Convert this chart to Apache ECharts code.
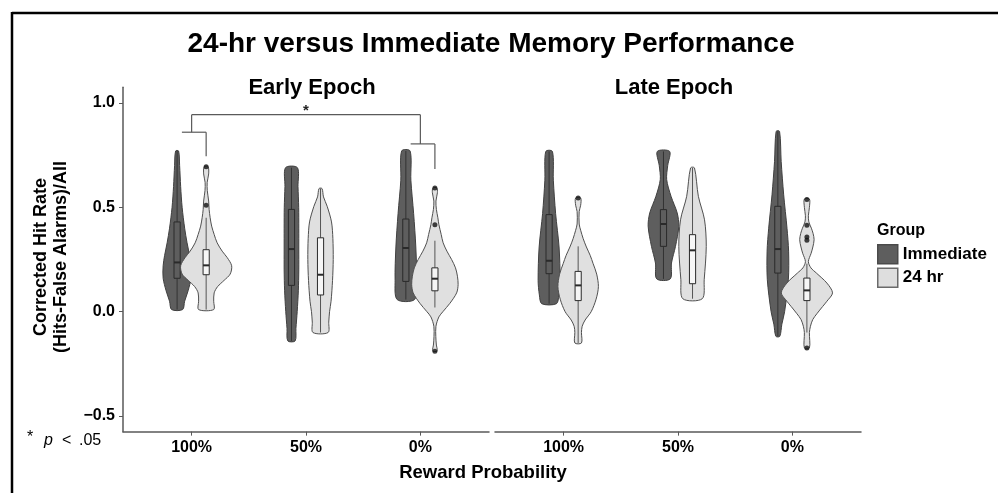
<!DOCTYPE html>
<html>
<head>
<meta charset="utf-8">
<script src="https://cdn.jsdelivr.net/npm/echarts@6/dist/echarts.min.js"></script>
<style>
  html, body { margin: 0; padding: 0; background: #fff; }
  #chart { width: 998px; height: 493px; }
</style>
</head>
<body>
<div id="chart"></div>
<script>
// ---- data -------------------------------------------------------------
const categories = ['100%', '50%', '0%'];
const groups = ['Immediate', '24 hr'];
const epochs = ['Early Epoch', 'Late Epoch'];
const yTicks = [-0.5, 0, 0.5, 1.0];

// Violin outlines, top to bottom: [score, half-width in category units]
const earlyImmediateViolins = [
  [[0.77,0.013],[0.70,0.022],[0.60,0.031],[0.50,0.044],[0.40,0.066],[0.33,0.087],[0.27,0.109],[0.22,0.122],[0.16,0.122],[0.10,0.096],[0.05,0.066],[0.01,0.048]],
  [[0.69,0.052],[0.60,0.057],[0.50,0.063],[0.40,0.064],[0.30,0.064],[0.20,0.064],[0.10,0.060],[0.00,0.050],[-0.08,0.039],[-0.14,0.032]],
  [[0.77,0.037],[0.63,0.044],[0.47,0.068],[0.31,0.087],[0.15,0.094],[0.058,0.076]]
];
const early24hrViolins = [
  [[0.695,0.017],[0.66,0.022],[0.62,0.009],[0.58,0.010],[0.53,0.022],[0.49,0.026],[0.45,0.035],[0.41,0.048],[0.37,0.070],[0.33,0.096],[0.29,0.140],[0.26,0.183],[0.22,0.223],[0.18,0.210],[0.15,0.157],[0.12,0.100],[0.09,0.070],[0.05,0.066],[0.01,0.066]],
  [[0.59,0.013],[0.55,0.026],[0.505,0.058],[0.43,0.096],[0.35,0.108],[0.25,0.111],[0.15,0.105],[0.05,0.092],[0.00,0.079],[-0.05,0.072],[-0.10,0.066]],
  [[0.593,0.017],[0.57,0.022],[0.53,0.009],[0.49,0.013],[0.45,0.026],[0.417,0.035],[0.37,0.055],[0.33,0.072],[0.29,0.105],[0.25,0.146],[0.21,0.180],[0.17,0.197],[0.13,0.203],[0.09,0.190],[0.04,0.131],[0.00,0.070],[-0.025,0.035],[-0.07,0.009],[-0.12,0.008],[-0.16,0.013],[-0.18,0.020],[-0.19,0.017]]
];
const lateImmediateViolins = [
  [[0.768,0.029],[0.63,0.037],[0.47,0.057],[0.31,0.087],[0.15,0.096],[0.08,0.085],[0.038,0.064]],
  [[0.768,0.054],[0.70,0.037],[0.633,0.028],[0.553,0.066],[0.473,0.120],[0.41,0.134],[0.313,0.105],[0.233,0.070],[0.157,0.059]],
  [[0.864,0.015],[0.72,0.029],[0.56,0.051],[0.40,0.080],[0.29,0.094],[0.153,0.092],[0.00,0.059],[-0.06,0.035],[-0.118,0.017]]
];
const late24hrViolins = [
  [[0.545,0.022],[0.51,0.022],[0.48,0.009],[0.42,0.009],[0.39,0.022],[0.35,0.044],[0.31,0.072],[0.27,0.105],[0.23,0.131],[0.18,0.162],[0.12,0.177],[0.06,0.157],[0.00,0.114],[-0.04,0.061],[-0.07,0.035],[-0.10,0.029],[-0.15,0.029]],
  [[0.689,0.017],[0.553,0.051],[0.44,0.105],[0.313,0.120],[0.153,0.102],[0.062,0.085]],
  [[0.54,0.022],[0.50,0.022],[0.46,0.013],[0.43,0.017],[0.40,0.039],[0.375,0.054],[0.345,0.063],[0.31,0.052],[0.28,0.037],[0.24,0.013],[0.21,0.035],[0.185,0.083],[0.137,0.175],[0.09,0.224],[0.05,0.175],[0.025,0.138],[-0.01,0.087],[-0.038,0.051],[-0.07,0.031],[-0.10,0.022],[-0.174,0.022]]
];

// Box summaries: [lower whisker, Q1, median, Q3, upper whisker]
const earlyImmediateBoxes = [[0.01,0.16,0.236,0.43,0.77],[-0.14,0.126,0.30,0.49,0.69],[0.058,0.145,0.305,0.444,0.77]];
const early24hrBoxes = [[0.01,0.177,0.222,0.297,0.45],[-0.10,0.08,0.177,0.354,0.59],[0.02,0.10,0.158,0.21,0.34]];
const lateImmediateBoxes = [[0.038,0.182,0.244,0.465,0.768],[0.157,0.313,0.42,0.489,0.768],[-0.118,0.185,0.30,0.505,0.864]];
const late24hrBoxes = [[-0.15,0.053,0.126,0.193,0.313],[0.062,0.134,0.294,0.369,0.689],[-0.10,0.053,0.102,0.161,0.23]];

// Outlying participants: [category index, score]
const early24hrOutliers = [[0,0.51],[0,0.694],[2,0.417],[2,0.593],[2,-0.19]];
const late24hrOutliers = [[0,0.545],[2,0.537],[2,0.414],[2,0.358],[2,0.342],[2,-0.174]];

// Significance bracket in the Early Epoch panel (score levels)
const sigBarLevels = [0.944, 0.86, 0.804];   // 100% vs 0%, 100% pair, 0% pair
const sigLegEnds = [0.745, 0.684];
const sigLabel = '*';

// ---- layout / style ---------------------------------------------------
const FONT = '"Liberation Sans", Arial, Helvetica, sans-serif';
const DODGE = 0.127;      // group offset from the category centre
const BOX_HALF = 0.027;   // half width of the inner box plot
const AXIS_COLOR = '#595959';

const styles = [
  { fill: '#5e5e5e', stroke: '#404040', whisker: '#333', box: '#5e5e5e', boxStroke: '#2a2a2a' },
  { fill: '#e0e0e0', stroke: '#505050', whisker: '#555', box: '#f6f6f6', boxStroke: '#2a2a2a' }
];

function violinSeries(epoch, g, violins, boxes) {
  const st = styles[g];
  return {
    type: 'custom',
    name: groups[g],
    xAxisIndex: epoch,
    yAxisIndex: epoch,
    clip: false,
    data: categories.map((c, i) => [i + 1 + (g === 0 ? -DODGE : DODGE), boxes[i][2], i]),
    encode: { x: 0, y: 1 },
    renderItem: function (params, api) {
      const x = api.value(0);
      const i = api.value(2);
      const prof = violins[i];
      const right = prof.map(([v, w]) => api.coord([x + w, v]));
      const left = prof.slice().reverse().map(([v, w]) => api.coord([x - w, v]));
      const [lo, q1, med, q3, hi] = boxes[i];
      const a = api.coord([x - BOX_HALF, q3]);
      const b = api.coord([x + BOX_HALF, q1]);
      const m1 = api.coord([x - BOX_HALF, med]);
      const m2 = api.coord([x + BOX_HALF, med]);
      const top = api.coord([x, hi]), qt = api.coord([x, q3]);
      const qb = api.coord([x, q1]), bot = api.coord([x, lo]);
      return {
        type: 'group',
        children: [
          { type: 'polygon', shape: { points: right.concat(left), smooth: 0.3 },
            style: { fill: st.fill, stroke: st.stroke, lineWidth: 1 } },
          { type: 'line', shape: { x1: top[0], y1: top[1], x2: qt[0], y2: qt[1] },
            style: { stroke: st.whisker, lineWidth: 1 } },
          { type: 'line', shape: { x1: qb[0], y1: qb[1], x2: bot[0], y2: bot[1] },
            style: { stroke: st.whisker, lineWidth: 1 } },
          { type: 'rect', shape: { x: a[0], y: a[1], width: b[0] - a[0], height: b[1] - a[1] },
            style: { fill: st.box, stroke: st.boxStroke, lineWidth: 1 } },
          { type: 'line', shape: { x1: m1[0], y1: m1[1], x2: m2[0], y2: m2[1] },
            style: { stroke: st.boxStroke, lineWidth: 2 } }
        ]
      };
    }
  };
}

function outlierSeries(epoch, outliers) {
  return {
    type: 'scatter',
    name: 'outliers',
    xAxisIndex: epoch,
    yAxisIndex: epoch,
    symbol: 'circle',
    symbolSize: 5,
    itemStyle: { color: '#111' },
    z: 5,
    data: outliers.map(([i, v]) => [i + 1 + DODGE, v])
  };
}

const significanceSeries = {
  type: 'custom',
  name: 'significance',
  xAxisIndex: 0,
  yAxisIndex: 0,
  clip: false,
  z: 6,
  data: [[2, sigBarLevels[0]]],
  renderItem: function (params, api) {
    const seg = (x1, v1, x2, v2) => {
      const p = api.coord([x1, v1]), q = api.coord([x2, v2]);
      return { type: 'line', shape: { x1: p[0], y1: p[1], x2: q[0], y2: q[1] },
               style: { stroke: '#5a5a5a', lineWidth: 1.2 } };
    };
    const [main, pairA, pairB] = sigBarLevels;
    const star = api.coord([2, main]);
    return {
      type: 'group',
      children: [
        seg(1, main, 3, main),
        seg(1, main, 1, pairA),
        seg(3, main, 3, pairB),
        seg(1 - 0.085, pairA, 1 + DODGE, pairA),
        seg(1 + DODGE, pairA, 1 + DODGE, sigLegEnds[0]),
        seg(3 - 0.085, pairB, 3 + DODGE, pairB),
        seg(3 + DODGE, pairB, 3 + DODGE, sigLegEnds[1]),
        { type: 'text', x: star[0], y: star[1] - 4,
          style: { text: sigLabel, font: 'bold 15px ' + FONT, fill: '#222',
                   align: 'center', verticalAlign: 'middle',
                   textAlign: 'center', textVerticalAlign: 'middle' } }
      ]
    };
  }
};

function xAxisFor(epoch) {
  return {
    type: 'value', gridIndex: epoch, min: 0.4, max: 3.6,
    axisLine: { show: true, onZero: false, lineStyle: { color: AXIS_COLOR, width: 1.5 } },
    axisTick: { show: true, customValues: [1, 2, 3], length: 4, lineStyle: { color: AXIS_COLOR } },
    axisLabel: { customValues: [1, 2, 3], formatter: v => categories[Math.round(v) - 1],
                 fontSize: 16, fontWeight: 'bold', color: '#000', fontFamily: FONT, margin: 8 },
    splitLine: { show: false }
  };
}

function yAxisFor(epoch) {
  return {
    type: 'value', gridIndex: epoch, min: -0.575, max: 1.075, show: epoch === 0,
    axisLine: { show: true, onZero: false, lineStyle: { color: AXIS_COLOR, width: 1.5 } },
    axisTick: { show: true, customValues: yTicks, length: 4, lineStyle: { color: AXIS_COLOR } },
    axisLabel: { customValues: yTicks,
                 formatter: v => (v < 0 ? '\u2212' : '') + Math.abs(v).toFixed(1),
                 fontSize: 16, fontWeight: 'bold', color: '#000', fontFamily: FONT, margin: 8 },
    splitLine: { show: false }
  };
}

const txt = (text, x, y, font, align, extra) => Object.assign({
  type: 'text', x: x, y: y,
  style: { text: text, font: font, fill: '#000', align: align, verticalAlign: 'middle',
           textAlign: align, textVerticalAlign: 'middle' }
}, extra || {});

const option = {
  animation: false,
  backgroundColor: '#fff',
  grid: [
    { left: 123, top: 87.35, width: 366, height: 344.3 },
    { left: 495, top: 87.35, width: 366, height: 344.3 }
  ],
  xAxis: [xAxisFor(0), xAxisFor(1)],
  yAxis: [yAxisFor(0), yAxisFor(1)],
  legend: {
    orient: 'vertical', left: 877, top: 244, padding: 0,
    itemWidth: 20, itemHeight: 19, itemGap: 3, icon: 'rect',
    selectedMode: false,
    textStyle: { fontSize: 17, fontWeight: 'bold', color: '#000', fontFamily: FONT },
    data: [
      { name: groups[0], itemStyle: { color: '#5e5e5e', borderColor: '#4a4a4a', borderWidth: 1.5 } },
      { name: groups[1], itemStyle: { color: '#dedede', borderColor: '#6a6a6a', borderWidth: 1.5 } }
    ]
  },
  graphic: [
    { type: 'line', shape: { x1: 12, y1: 13, x2: 998, y2: 13 }, style: { stroke: '#000', lineWidth: 2.5 } },
    { type: 'line', shape: { x1: 12, y1: 12, x2: 12, y2: 493 }, style: { stroke: '#000', lineWidth: 2.5 } },
    txt('24-hr versus Immediate Memory Performance', 491, 44, 'bold 28px ' + FONT, 'center'),
    txt(epochs[0], 312, 88, 'bold 22px ' + FONT, 'center'),
    txt(epochs[1], 674, 88, 'bold 22px ' + FONT, 'center'),
    txt('Reward Probability', 483, 473, 'bold 18.5px ' + FONT, 'center'),
    txt('Corrected Hit Rate', 41, 257, 'bold 18px ' + FONT, 'center', { rotation: Math.PI / 2 }),
    txt('(Hits-False Alarms)/All', 61, 257, 'bold 18px ' + FONT, 'center', { rotation: Math.PI / 2 }),
    txt('Group', 877, 231, 'bold 16px ' + FONT, 'left'),
    // significance footnote: "* p < .05"
    txt('*', 27, 438, '16px ' + FONT, 'left'),
    txt('p', 44, 441, 'italic 16px ' + FONT, 'left'),
    txt('<', 62, 441, '16px ' + FONT, 'left'),
    txt('.05', 79, 441, '16px ' + FONT, 'left')
  ],
  series: [
    violinSeries(0, 0, earlyImmediateViolins, earlyImmediateBoxes),
    violinSeries(0, 1, early24hrViolins, early24hrBoxes),
    violinSeries(1, 0, lateImmediateViolins, lateImmediateBoxes),
    violinSeries(1, 1, late24hrViolins, late24hrBoxes),
    outlierSeries(0, early24hrOutliers),
    outlierSeries(1, late24hrOutliers),
    significanceSeries
  ]
};

const chart = echarts.init(document.getElementById('chart'), null, { renderer: 'canvas' });
chart.setOption(option);
</script>
</body>
</html>
